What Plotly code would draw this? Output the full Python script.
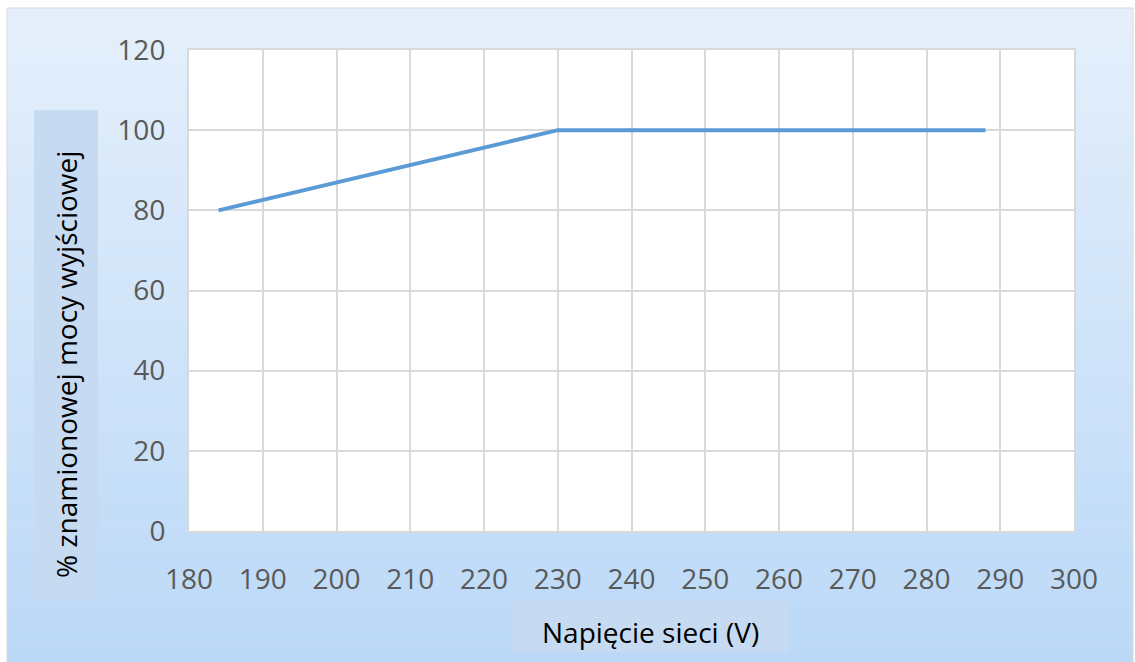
import plotly.graph_objects as go

# data
voltage = [184, 230, 288]
power_pct = [80, 100, 100]
x_ticks = [180, 190, 200, 210, 220, 230, 240, 250, 260, 270, 280, 290, 300]
y_ticks = [0, 20, 40, 60, 80, 100, 120]

W, H = 1135, 662
L, R, T, B = 189, 1074, 50, 531   # plot area in pixels


def px_x(p):
    return (p - L) / (R - L)


def px_y(p):
    return (B - p) / (B - T)


fig = go.Figure()
fig.add_trace(go.Scatter(
    x=voltage, y=power_pct, mode="lines",
    line=dict(color="#5b9bd5", width=4),
    showlegend=False, hoverinfo="x+y",
))

shapes = []
# gradient background, top light to bottom bluer
n = 60
top_c = (229, 239, 251)
bot_c = (187, 217, 247)
y0, y1 = 8, 662
for i in range(n):
    t = i / (n - 1)
    c = tuple(round(top_c[k] + (bot_c[k] - top_c[k]) * t) for k in range(3))
    ya = y0 + (y1 - y0) * i / n
    yb = y0 + (y1 - y0) * (i + 1) / n + 0.5
    shapes.append(dict(type="rect", xref="paper", yref="paper", layer="below",
                       x0=px_x(7), x1=px_x(1133), y0=px_y(yb), y1=px_y(ya),
                       line_width=0, fillcolor="rgb(%d,%d,%d)" % c))
# outer thin border
shapes.append(dict(type="rect", xref="paper", yref="paper", layer="below",
                   x0=px_x(7), x1=px_x(1133), y0=px_y(663), y1=px_y(8),
                   line=dict(color="#d9d9d9", width=1), fillcolor="rgba(0,0,0,0)"))
# axis title boxes
box_col = "#c6daf1"
shapes.append(dict(type="rect", xref="paper", yref="paper", layer="below",
                   x0=px_x(34), x1=px_x(98), y0=px_y(599), y1=px_y(110),
                   line_width=0, fillcolor=box_col))
shapes.append(dict(type="rect", xref="paper", yref="paper", layer="below",
                   x0=px_x(513), x1=px_x(788), y0=px_y(652), y1=px_y(600),
                   line_width=0, fillcolor=box_col))
# white plot area
shapes.append(dict(type="rect", xref="paper", yref="paper", layer="below",
                   x0=0, x1=1, y0=0, y1=1, line_width=0, fillcolor="white"))

fig.update_layout(
    width=W, height=H,
    margin=dict(l=L, r=W - R, t=T, b=H - B),
    paper_bgcolor="white",
    plot_bgcolor="rgba(0,0,0,0)",
    font=dict(family="Open Sans, sans-serif", color="#595959", size=28),
    shapes=shapes,
    annotations=[
        dict(text="% znamionowej mocy wyjściowej", xref="paper", yref="paper",
             x=px_x(66), y=px_y(365), xanchor="center", yanchor="middle",
             textangle=-90, showarrow=False,
             font=dict(size=28, color="black")),
        dict(text="Napięcie sieci (V)", xref="paper", yref="paper",
             x=px_x(650), y=px_y(632), xanchor="center", yanchor="middle",
             showarrow=False, font=dict(size=28, color="black")),
    ],
)
fig.update_xaxes(
    range=[180, 300], tickvals=x_ticks, ticktext=[str(v) for v in x_ticks],
    showgrid=True, gridcolor="#d9d9d9", gridwidth=2,
    showline=True, linecolor="#d9d9d9", linewidth=2, mirror=True,
    zeroline=False, ticks="", ticklabelstandoff=22,
)
fig.update_yaxes(
    range=[0, 120], tickvals=y_ticks, ticktext=[str(v) for v in y_ticks],
    showgrid=True, gridcolor="#d9d9d9", gridwidth=2,
    showline=True, linecolor="#d9d9d9", linewidth=2, mirror=True,
    zeroline=False, ticks="", ticklabelstandoff=16,
)

fig.write_html("out.html", config={"displayModeBar": False},
               post_script="document.body.style.margin='0';")
